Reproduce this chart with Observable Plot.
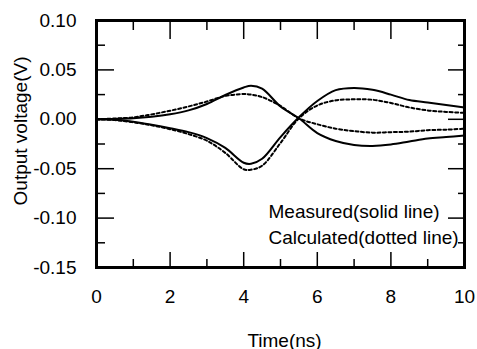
<!DOCTYPE html>
<html>
<head>
<meta charset="utf-8">
<script src="https://cdn.jsdelivr.net/npm/d3@7"></script>
<script src="https://cdn.jsdelivr.net/npm/@observablehq/plot@0.6"></script>
<style>
  html, body { margin: 0; padding: 0; background: #fff; }
  svg { display: block; }
</style>
</head>
<body>
<div id="chart"></div>
<script>
const time = [0, 0.5, 1, 1.5, 2, 2.5, 3, 3.5, 4, 4.2, 4.5, 5, 5.5, 6, 6.5, 7, 7.5, 8, 8.5, 9, 9.5, 10];
const measuredUp = [0, 0.0004, 0.001, 0.0025, 0.005, 0.009, 0.0155, 0.0246, 0.0322, 0.034, 0.031, 0.013, 0.001, -0.014, -0.022, -0.026, -0.027, -0.0255, -0.0225, -0.0195, -0.018, -0.0165];
const measuredDown = [0, -0.0005, -0.0024, -0.0055, -0.009, -0.013, -0.019, -0.029, -0.044, -0.045, -0.040, -0.018, 0.002, 0.0185, 0.0295, 0.0318, 0.0298, 0.025, 0.0195, 0.017, 0.0145, 0.012];
const calculatedUp = [0, 0.0008, 0.002, 0.005, 0.0087, 0.013, 0.018, 0.0236, 0.0256, 0.025, 0.0225, 0.0135, 0.001, -0.005, -0.0095, -0.012, -0.0135, -0.013, -0.0125, -0.011, -0.0105, -0.0095];
const calculatedDown = [0, -0.0008, -0.003, -0.006, -0.010, -0.015, -0.0217, -0.034, -0.0506, -0.051, -0.047, -0.024, 0.001, 0.014, 0.0192, 0.0202, 0.0198, 0.0165, 0.012, 0.009, 0.0075, 0.0065];

const xTicks = [0, 2, 4, 6, 8, 10];
const xMinorTicks = [1, 3, 5, 7, 9];
const yTicks = [-0.15, -0.10, -0.05, 0.00, 0.05, 0.10];
const yMinorTicks = [-0.125, -0.075, -0.025, 0.025, 0.075];
const xLabel = "Time(ns)";
const yLabel = "Output voltage(V)";
const legendLabels = ["Measured(solid line)", "Calculated(dotted line)"];

const rows = (ys) => time.map((t, i) => ({t, v: ys[i]}));
const font = "'Liberation Sans', Arial, Helvetica, sans-serif";

const lineOpts = {x: "t", y: "v", curve: "catmull-rom", stroke: "black"};

const chart = Plot.plot({
  width: 477,
  height: 349,
  marginLeft: 96,
  marginRight: 13,
  marginTop: 20,
  marginBottom: 82,
  style: {fontFamily: font, fontSize: "19px", color: "black", background: "white"},
  x: {domain: [0, 10]},
  y: {domain: [-0.15, 0.10]},
  marks: [
    // tick marks (inward)
    Plot.axisX(xTicks, {anchor: "bottom", tickSize: -15, tickFormat: () => "", strokeWidth: 1.5, label: null}),
    Plot.axisX(xMinorTicks, {anchor: "bottom", tickSize: -8, tickFormat: () => "", strokeWidth: 1.5, label: null}),
    Plot.axisX(xTicks, {anchor: "top", tickSize: -18, tickFormat: () => "", strokeWidth: 1.5, label: null}),
    Plot.axisX(xMinorTicks, {anchor: "top", tickSize: -9, tickFormat: () => "", strokeWidth: 1.5, label: null}),
    Plot.axisY(yTicks, {anchor: "left", tickSize: -18, tickFormat: () => "", strokeWidth: 1.5, label: null}),
    Plot.axisY(yMinorTicks, {anchor: "left", tickSize: -9, tickFormat: () => "", strokeWidth: 1.5, label: null}),
    Plot.axisY(yTicks, {anchor: "right", tickSize: -17, tickFormat: () => "", strokeWidth: 1.5, label: null}),
    Plot.axisY(yMinorTicks, {anchor: "right", tickSize: -7, tickFormat: () => "", strokeWidth: 1.5, label: null}),
    // tick labels
    Plot.axisX(xTicks, {anchor: "bottom", tickSize: 0, tickPadding: 22, tickFormat: d => String(d), label: null, fontSize: 19}),
    Plot.axisY(yTicks, {anchor: "left", tickSize: 0, tickPadding: 20, tickFormat: d => d.toFixed(2), label: null, fontSize: 19}),
    // data
    Plot.line(rows(calculatedUp), {...lineOpts, strokeWidth: 2, strokeDasharray: "3,2.5"}),
    Plot.line(rows(calculatedDown), {...lineOpts, strokeWidth: 2, strokeDasharray: "3,2.5"}),
    Plot.line(rows(measuredUp), {...lineOpts, strokeWidth: 2}),
    Plot.line(rows(measuredDown), {...lineOpts, strokeWidth: 2}),
    // frame
    Plot.frame({stroke: "black", strokeWidth: 3}),
    // axis titles
    Plot.text([xLabel], {frameAnchor: "bottom", dy: 79, dx: 4, fontSize: 19, fill: "black"}),
    Plot.text([yLabel], {frameAnchor: "left", textAnchor: "middle", rotate: -90, dx: -76, dy: -13, fontSize: 19, fill: "black", style: {letterSpacing: "0.6px"}}),
    // legend
    Plot.text([legendLabels[0]], {frameAnchor: "bottom-left", textAnchor: "start", dx: 172, dy: -50, fontSize: 19, fill: "black"}),
    Plot.text([legendLabels[1]], {frameAnchor: "bottom-left", textAnchor: "start", dx: 172, dy: -24, fontSize: 19, fill: "black"})
  ]
});
document.getElementById("chart").appendChild(chart);
</script>
</body>
</html>
